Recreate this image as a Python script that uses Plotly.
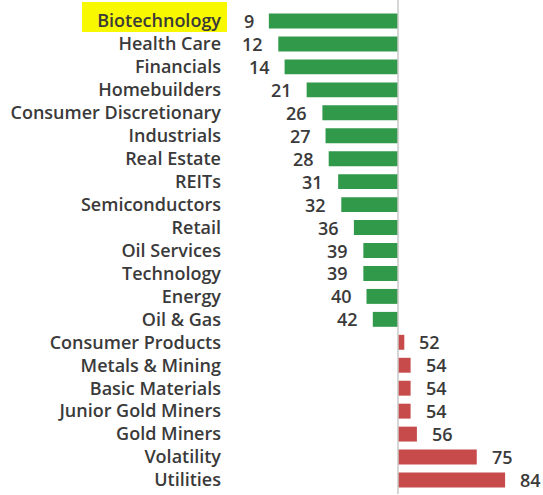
import plotly.graph_objects as go

categories = ["Biotechnology", "Health Care", "Financials", "Homebuilders",
              "Consumer Discretionary", "Industrials", "Real Estate", "REITs",
              "Semiconductors", "Retail", "Oil Services", "Technology", "Energy",
              "Oil & Gas", "Consumer Products", "Metals & Mining", "Basic Materials",
              "Junior Gold Miners", "Gold Miners", "Volatility", "Utilities"]
values = [9, 12, 14, 21, 26, 27, 28, 31, 32, 36, 39, 39, 40, 42,
          52, 54, 54, 54, 56, 75, 84]
baseline = 50
highlight = "Biotechnology"

GREEN = "#30994a"
RED = "#c84b4c"
TEXT = "#3a3a3a"
FONT = "Open Sans"
FS = 18

W, H = 543, 495
L, R, T, B = 226, 23, 7, 1
px_per_unit = 3.15
base_px = 398
x0 = baseline - (base_px - L) / px_per_unit
x1 = baseline + (W - R - base_px) / px_per_unit

colors = [GREEN if v < baseline else RED for v in values]

fig = go.Figure(go.Bar(
    y=categories, x=[v - baseline for v in values], base=baseline,
    orientation="h", marker=dict(color=colors, line=dict(width=0)),
    hoverinfo="skip",
))

for c, v in zip(categories, values):
    left = v < baseline
    fig.add_annotation(
        x=v, y=c, xref="x", yref="y", text=str(v), showarrow=False,
        xanchor="right" if left else "left", xshift=-13 if left else 13,
        font=dict(family=FONT, size=FS, color=TEXT, weight=600),
    )

pw = W - L - R
ph = H - T - B
fig.add_shape(type="line", xref="x", yref="paper", x0=baseline, x1=baseline,
              y0=0, y1=1 + T / ph, line=dict(color="#c8c8c8", width=1.5), layer="above")

fig.add_shape(type="rect", xref="paper", yref="paper",
              x0=(82 - L) / pw, x1=(227 - L) / pw,
              y0=1 - (32 - T) / ph, y1=1 - (2 - T) / ph,
              fillcolor="#f8f800", line=dict(width=0), layer="below")

fig.update_layout(
    width=W, height=H, margin=dict(l=L, r=R, t=T, b=B),
    paper_bgcolor="white", plot_bgcolor="white",
    bargap=0.35, showlegend=False,
    xaxis=dict(range=[x0, x1], visible=False, fixedrange=True),
    yaxis=dict(autorange="reversed", showgrid=False, zeroline=False,
               showline=False, ticks="", ticklabelstandoff=4,
               tickfont=dict(family=FONT, size=FS, color=TEXT, weight=600)),
)

fig.write_html("out.html")
